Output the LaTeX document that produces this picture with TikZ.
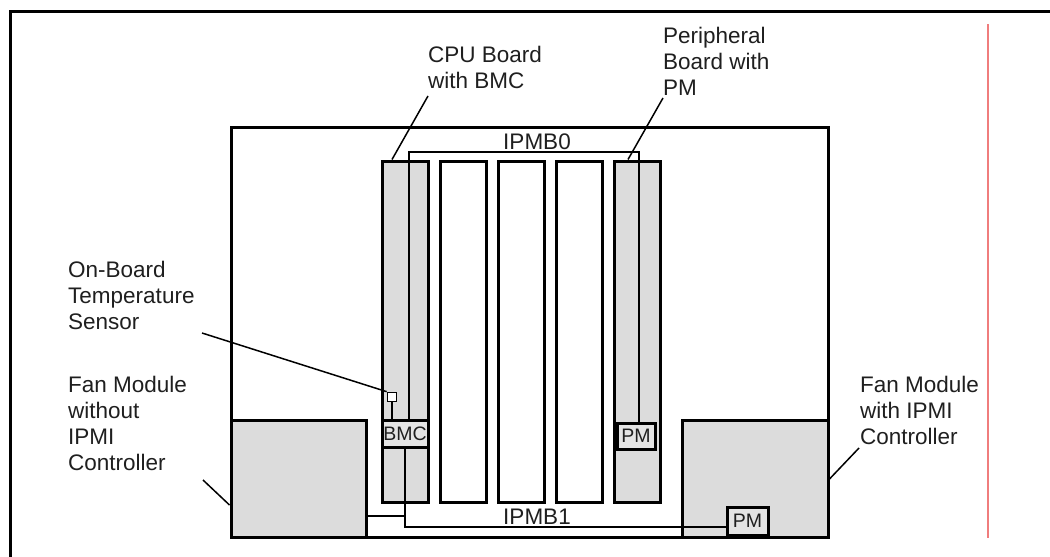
\documentclass[tikz,border=0pt]{standalone}
\usepackage{fontspec}
\setmainfont{Liberation Sans}
\definecolor{boardgray}{RGB}{220,220,220}
\definecolor{chipgray}{RGB}{228,228,228}
\definecolor{redline}{RGB}{240,125,125}
\begin{document}
\begin{tikzpicture}[x=1pt,y=-1pt,
  lbl/.style={anchor=north west, inner sep=0pt, align=left, text=black!88,
    font=\fontsize{22.5}{26}\selectfont},
  buslbl/.style={anchor=base, inner sep=0pt, text=black!88, font=\fontsize{22.5}{26}\selectfont},
  chassis/.style={draw, line width=3pt, minimum width=597pt, minimum height=410pt, inner sep=0pt},
  fanbox/.style={draw, fill=boardgray, line width=3pt, inner sep=0pt, minimum height=117pt},
  board/.style={draw, line width=3pt, inner sep=0pt, minimum width=46pt, minimum height=341pt},
  chip/.style={draw, fill=chipgray, line width=3pt, inner sep=0pt, text=black!88,
    font=\fontsize{19.5}{21}\selectfont},
  bus/.style={draw, line width=2.3pt},
  leader/.style={draw, line width=1.5pt}]
\useasboundingbox (0,0) rectangle (1050,557);
% outer frame (only top and left edges visible)
\draw[line width=3pt] (10,557) -- (10,11) -- (1050,11);
% red margin line
\draw[redline, line width=1.2pt] (988,24) -- (988,538);
% chassis
\node[chassis] (chassis) at (529.5,332) {};
% fan modules
\node[fanbox, minimum width=135pt] (fanL) at (298.5,478.5) {};
\node[fanbox, minimum width=146pt] (fanR) at (755,478.5) {};
% boards
\node[board, fill=boardgray] (b1) at (405,331.5) {};
\node[board] (b2) at (463,331.5) {};
\node[board] (b3) at (521,331.5) {};
\node[board] (b4) at (579,331.5) {};
\node[board, fill=boardgray] (b5) at (637,331.5) {};
% controllers
\node[chip, minimum width=46pt, minimum height=27pt] (bmc) at (405,433.5) {BMC};
\node[chip, minimum width=38pt, minimum height=26pt] (pmA) at (636,436) {PM};
\node[chip, minimum width=41pt, minimum height=28pt] (pmB) at (747.5,521) {PM};
\node[draw, fill=white, line width=1.7pt, minimum size=9pt, inner sep=0pt] (sensor) at (392,397) {};
% buses
\draw[bus] ([xshift=4pt]bmc.north) |- ([xshift=3pt]pmA.north |- 0,152) -- ([xshift=3pt]pmA.north);
\draw[bus] (bmc.south) |- ([yshift=-6pt]pmB.west);
\draw[bus] (fanL.east |- 0,516) -- (bmc.south |- 0,516);
\draw[line width=1.7pt] (sensor.south) -- (sensor.south |- bmc.north);
\node[buslbl] (ipmb0) at (537,149) {IPMB0};
\node[buslbl] (ipmb1) at (537,524) {IPMB1};
% labels
\node[lbl] (cpulbl) at (428,45.5) {CPU Board\\with BMC};
\node[lbl] (perlbl) at (663,26.5) {Peripheral\\Board with\\PM};
\node[lbl] (templbl) at (68,260.5) {On-Board\\Temperature\\Sensor};
\node[lbl] (fanLlbl) at (68,375.5) {Fan Module\\without\\IPMI\\Controller};
\node[lbl] (fanRlbl) at (860,375.5) {Fan Module\\with IPMI\\Controller};
% leader lines
\coordinate (cpuEnd) at (428,96);
\coordinate (perEnd) at (663,98);
\coordinate (tempEnd) at (202,333);
\coordinate (fanLEnd) at (203,480);
\coordinate (fanREnd) at (859,448);
\draw[leader] (cpuEnd) -- (b1.north -| 392,0);
\draw[leader] (perEnd) -- (b5.north -| 628,0);
\draw[leader] (tempEnd) -- (sensor.north west);
\draw[leader] (fanLEnd) -- (fanL.west |- 0,505);
\draw[leader] (fanREnd) -- (fanR.east |- 0,479);
\end{tikzpicture}
\end{document}
